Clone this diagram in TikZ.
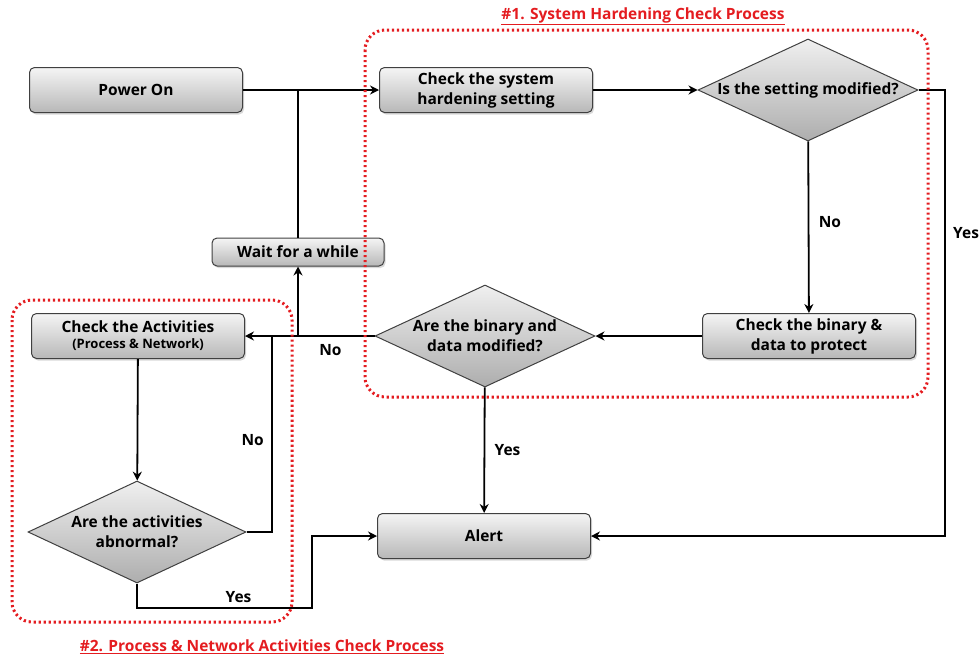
\documentclass[tikz,border=0pt]{standalone}
\usepackage{fontspec}
\setmainfont{Open Sans}
\usepackage{xcolor}
\usetikzlibrary{shapes.geometric,shadows,arrows.meta}
\definecolor{markred}{RGB}{228,28,32}

\begin{document}
\begin{tikzpicture}[x=1pt,y=-1pt,
  box/.style={rectangle, rounded corners=5pt, draw=black!75, line width=1pt, top color=black!4, bottom color=black!28, drop shadow={opacity=0.3,shadow xshift=1.5pt,shadow yshift=-2pt}, font=\bfseries\fontsize{15.5}{20}\selectfont, align=center, minimum width=213pt, minimum height=45pt, inner sep=2pt},
  decision/.style={diamond, aspect=2.16, draw=black!75, line width=1pt, top color=black!6, bottom color=black!32, minimum width=220pt, minimum height=102pt, inner sep=0pt},
  qtext/.style={font=\bfseries\fontsize{15.5}{20}\selectfont, align=center},
  lbl/.style={font=\bfseries\fontsize{15.5}{19}\selectfont},
  line/.style={line width=1.8pt},
  flow/.style={line width=1.8pt, -{Stealth[length=9pt,width=9pt]}},
  redbox/.style={draw=markred, line width=3pt, dash pattern=on 2.2pt off 2.8pt, rounded corners=20pt},
  title/.style={text=markred, font=\bfseries\fontsize{15.5}{19}\selectfont}]
\useasboundingbox (0,0) rectangle (979,659);

\node[box] (power) at (136,90) {Power On};
\node[box] (hard) at (486,90) {Check the system\\hardening setting};
\node[decision, label={[qtext]center:Is the setting modified?}] (dset) at (808,90) {};
\node[box] (bin) at (809,336) {Check the binary \&\\data to protect};
\node[decision, label={[qtext]center:Are the binary and\\data modified?}] (dbin) at (485,336) {};
\node[box] (alert) at (484,536) {Alert};
\node[box, minimum width=172pt, minimum height=28pt] (wait) at (298,252) {Wait for a while};
\node[box] (act) at (138,336) {Check the Activities\\[-4pt]{\fontsize{13}{15}\selectfont(Process \& Network)}};
\node[decision, minimum width=218pt, label={[qtext]center:Are the activities\\abnormal?}] (dact) at (137,532) {};

\coordinate (rturn) at (945,90);
\coordinate (njoin) at (272,336);
\coordinate (yturn) at (312,608);

\draw[flow] (power) -- (hard);
\draw[line] (wait) -- (wait |- power);
\draw[flow] (hard) -- (dset);
\draw[flow] (dset) -- node[lbl, right=6pt, pos=0.47] {No} (bin);
\draw[flow] (dset.east) -- (rturn) |- node[lbl, pos=0.16, right=4pt] {Yes} (alert.east);
\draw[flow] (bin) -- (dbin);
\draw[flow] (dbin) -- node[lbl, pos=0.34, below=4pt] {No} (act);
\draw[flow] (dbin.west -| wait.south) -- (wait.south);
\draw[flow] (dbin) -- node[lbl, right=6pt] {Yes} (alert);
\draw[flow] (act) -- (dact);
\draw[line] (dact.east) -| node[lbl, pos=0.735, left=4pt] {No} (njoin);
\draw[flow] (dact.south) |- node[lbl, pos=0.79, above=1pt] {Yes} (yturn) |- (alert.west);

% check regions
\draw[redbox] (365,30) rectangle (928,397);
\draw[redbox] (12,300) rectangle (292,622);
\node[title] (t1) at (643,16) {\underline{\#1. System Hardening Check Process}};
\node[title] (t2) at (262,647) {\underline{\#2. Process \& Network Activities Check Process}};
\end{tikzpicture}
\end{document}
